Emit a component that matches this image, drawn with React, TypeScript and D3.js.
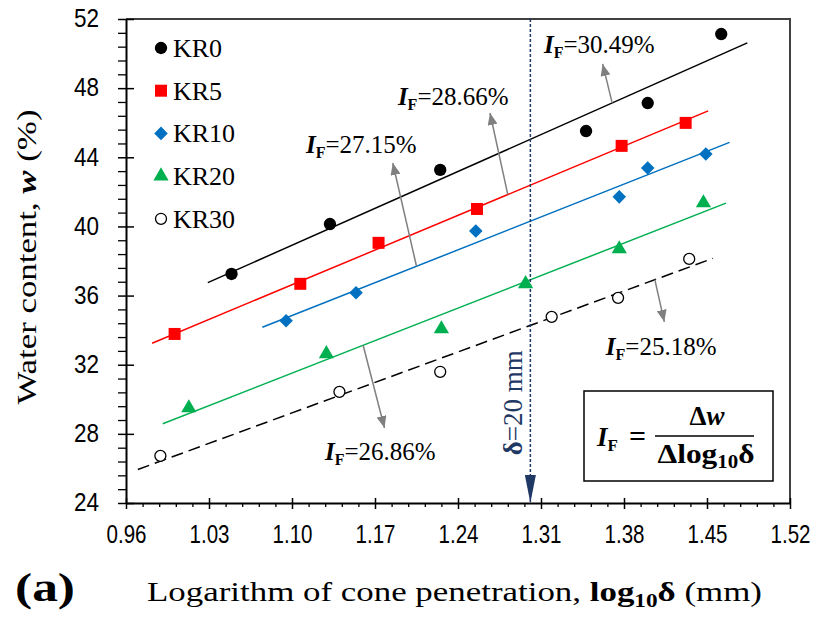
import { useEffect, useRef } from 'react';
import * as d3 from 'd3';

const width = 819;
const height = 630;
// plot box 126..790 x 19..503
const [mt, mr, mb, ml] = [19, 29, 127, 126];
const graphWidth = width - ml - mr;
const graphHeight = height - mt - mb;

const serif = "'Liberation Serif', 'Times New Roman', serif";
const narrow = "'Liberation Sans Narrow', 'Arial Narrow', 'Liberation Sans', Arial, sans-serif";
const navy = '#1f3864';
const gray = '#808080';

// tick labels
const xTicks = [0.96, 1.03, 1.1, 1.17, 1.24, 1.31, 1.38, 1.45, 1.52];
const yTicks = [24, 28, 32, 36, 40, 44, 48, 52];

// series
const seriesNames = ['KR0', 'KR5', 'KR10', 'KR20', 'KR30'];
const seriesColors = ['#000000', '#ff0000', '#0070c0', '#00b050', '#000000'];
const kr0X = [1.049, 1.132, 1.225, 1.348, 1.4, 1.462];
const kr0W = [37.25, 40.14, 43.27, 45.52, 47.14, 51.13];
const kr5X = [1.001, 1.107, 1.173, 1.256, 1.378, 1.432];
const kr5W = [33.78, 36.68, 39.05, 41.01, 44.66, 45.99];
const kr10X = [1.095, 1.154, 1.255, 1.376, 1.4, 1.449];
const kr10W = [34.54, 36.16, 39.74, 41.71, 43.38, 44.19];
const kr20X = [1.013, 1.129, 1.226, 1.297, 1.376, 1.447];
const kr20W = [29.5, 32.63, 34.07, 36.68, 38.7, 41.36];
const kr30X = [0.989, 1.14, 1.225, 1.319, 1.375, 1.435];
const kr30W = [26.73, 30.43, 31.59, 34.77, 35.87, 38.12];

// flow index (slope of fit) and extent of each fit line
const flowIndex = [30.49, 28.66, 27.15, 26.86, 25.18];
const fitStart = [1.029, 0.982, 1.075, 0.991, 0.97];
const fitEnd = [1.484, 1.451, 1.469, 1.466, 1.455];

// annotation arrows (data units)
const arrowFromX = [1.37, 1.282, 1.205, 1.16, 1.406];
const arrowToX = [1.362, 1.267, 1.185, 1.178, 1.414];
const arrowToY = [49.4, 46.56, 43.67, 28.34, 34.48];
const labelX = [1.3125, 1.1893, 1.1118, 1.1278, 1.3647];
const labelY = [50.5, 47.49, 44.71, 26.96, 33.03];

const deltaRef = 20; // mm

export default function App() {
    const chart = useRef<SVGSVGElement | null>(null);

    useEffect(() => {
        document.body.style.margin = '0';
        const svg = d3.select(chart.current);
        svg.selectAll('*').remove();

        const xs = [kr0X, kr5X, kr10X, kr20X, kr30X];
        const ws = [kr0W, kr5W, kr10W, kr20W, kr30W];

        const defs = svg.append('defs');
        defs.append('marker')
            .attr('id', 'grayHead')
            .attr('markerUnits', 'userSpaceOnUse')
            .attr('viewBox', '0 0 12 10')
            .attr('refX', 12)
            .attr('refY', 5)
            .attr('markerWidth', 12)
            .attr('markerHeight', 10)
            .attr('orient', 'auto')
            .append('path')
            .attr('d', 'M0,0 L12,5 L0,10 Z')
            .attr('fill', gray);
        defs.append('marker')
            .attr('id', 'navyHead')
            .attr('markerUnits', 'userSpaceOnUse')
            .attr('viewBox', '0 0 28 11')
            .attr('refX', 28)
            .attr('refY', 5.5)
            .attr('markerWidth', 28)
            .attr('markerHeight', 11)
            .attr('orient', 'auto')
            .append('path')
            .attr('d', 'M0,0 L28,5.5 L0,11 Z')
            .attr('fill', navy);

        const graph = svg.append('g').attr('transform', `translate(${ml}, ${mt})`);

        const x = d3.scaleLinear().domain([0.96, 1.52]).range([0, graphWidth]);
        const y = d3.scaleLinear().domain([24, 52]).range([graphHeight, 0]);

        // frame top / right
        graph.append('path')
            .attr('d', `M0,0 H${graphWidth} V${graphHeight}`)
            .attr('fill', 'none')
            .attr('stroke', '#404040')
            .attr('stroke-width', 2);

        // minor ticks
        const xMinor = d3.range(0, 41).map((i) => 0.96 + i * 0.014).filter((_d, i) => i % 5 !== 0);
        const yMinor = d3.range(0, 36).map((i) => 24 + i * 0.8).filter((_d, i) => i % 5 !== 0);

        graph.append('g')
            .attr('transform', `translate(0, ${graphHeight})`)
            .call(d3.axisBottom(x).tickValues(xMinor).tickSize(4).tickSizeOuter(0).tickFormat(() => ''))
            .call((g) => g.select('.domain').remove())
            .call((g) => g.selectAll('.tick line').attr('stroke-width', 1.3));
        graph.append('g')
            .call(d3.axisLeft(y).tickValues(yMinor).tickSize(8).tickSizeOuter(0).tickFormat(() => ''))
            .call((g) => g.select('.domain').remove())
            .call((g) => g.selectAll('.tick line').attr('stroke-width', 1.3));

        // major axes
        graph.append('g')
            .attr('transform', `translate(0, ${graphHeight})`)
            .call(d3.axisBottom(x).tickValues(xTicks).tickSize(6).tickSizeOuter(0).tickPadding(16).tickFormat(d3.format('.2f')))
            .call((g) => g.select('.domain').attr('stroke-width', 2))
            .call((g) => g.selectAll('.tick line').attr('y1', -5).attr('stroke-width', 1.5))
            .call((g) =>
                g.selectAll('.tick text')
                    .attr('font-family', narrow)
                    .attr('font-size', 26)
                    .attr('fill', '#000')
                    .attr('textLength', 40)
                    .attr('lengthAdjust', 'spacingAndGlyphs')
            );
        graph.append('g')
            .call(d3.axisLeft(y).tickValues(yTicks).tickSize(8).tickSizeOuter(0).tickPadding(19))
            .call((g) => g.select('.domain').attr('stroke-width', 2))
            .call((g) => g.selectAll('.tick line').attr('x1', 8).attr('stroke-width', 1.5))
            .call((g) =>
                g.selectAll('.tick text')
                    .attr('font-family', narrow)
                    .attr('font-size', 26)
                    .attr('fill', '#000')
                    .attr('dy', '0.3em')
                    .attr('textLength', 25)
                    .attr('lengthAdjust', 'spacingAndGlyphs')
            );

        // fit lines: slope = I_F, through the centroid of each series
        const fitY = (i: number, v: number) => d3.mean(ws[i])! + flowIndex[i] * (v - d3.mean(xs[i])!);
        seriesNames.forEach((_name, i) => {
            graph.append('line')
                .attr('x1', x(fitStart[i]))
                .attr('y1', y(fitY(i, fitStart[i])))
                .attr('x2', x(fitEnd[i]))
                .attr('y2', y(fitY(i, fitEnd[i])))
                .attr('stroke', seriesColors[i])
                .attr('stroke-width', 1.5)
                .attr('stroke-dasharray', i === 4 ? '12,6' : null);
        });

        // delta = 20 mm reference
        const xRef = Math.log10(deltaRef);
        graph.append('line')
            .attr('x1', x(xRef))
            .attr('x2', x(xRef))
            .attr('y1', 0)
            .attr('y2', graphHeight)
            .attr('stroke', navy)
            .attr('stroke-width', 1.5)
            .attr('stroke-dasharray', '3,2')
            .attr('marker-end', 'url(#navyHead)');
        graph.append('text')
            .attr('transform', `translate(${x(xRef) - 8}, ${y(29.8)}) rotate(-90)`)
            .attr('text-anchor', 'middle')
            .attr('font-family', serif)
            .attr('font-size', 27)
            .attr('fill', navy)
            .call((t) => {
                t.append('tspan').attr('font-weight', 'bold').text('δ');
                t.append('tspan').text('=20 mm');
            });

        // markers
        const symbols = [d3.symbolCircle, d3.symbolSquare, d3.symbolSquare, d3.symbolTriangle, d3.symbolCircle];
        const sizes = [120, 144, 92, 100, 95];
        seriesNames.forEach((_name, i) => {
            graph.append('g')
                .selectAll('path')
                .data(xs[i].map((v, j) => ({ x: v, w: ws[i][j] })))
                .join('path')
                .attr('d', d3.symbol().type(symbols[i]).size(sizes[i]))
                .attr('transform', (d) => `translate(${x(d.x)}, ${y(d.w)})${i === 2 ? ' rotate(45)' : ''}`)
                .attr('fill', i === 4 ? '#fff' : seriesColors[i])
                .attr('stroke', i === 4 ? '#000' : 'none')
                .attr('stroke-width', 1.3);
        });

        // I_F annotations
        flowIndex.forEach((v, i) => {
            graph.append('line')
                .attr('x1', x(arrowFromX[i]))
                .attr('y1', y(fitY(i, arrowFromX[i])))
                .attr('x2', x(arrowToX[i]))
                .attr('y2', y(arrowToY[i]))
                .attr('stroke', gray)
                .attr('stroke-width', 1.5)
                .attr('marker-end', 'url(#grayHead)');
            const t = graph.append('text')
                .attr('x', x(labelX[i]))
                .attr('y', y(labelY[i]) + 8)
                .attr('font-family', serif)
                .attr('font-size', 25)
                .attr('fill', '#000');
            t.append('tspan').attr('font-weight', 'bold').attr('font-style', 'italic').text('I');
            t.append('tspan').attr('font-weight', 'bold').attr('font-size', 16).attr('dy', 5).text('F');
            t.append('tspan').attr('dy', -5).text(`=${v.toFixed(2)}%`);
        });

        // legend
        const legend = svg.append('g').attr('transform', 'translate(161, 48)');
        seriesNames.forEach((name, i) => {
            const item = legend.append('g').attr('transform', `translate(0, ${i * 42.7})`);
            item.append('path')
                .attr('d', d3.symbol().type(symbols[i]).size(sizes[i])())
                .attr('transform', i === 2 ? 'rotate(45)' : null)
                .attr('fill', i === 4 ? '#fff' : seriesColors[i])
                .attr('stroke', i === 4 ? '#000' : 'none')
                .attr('stroke-width', 1.3);
            item.append('text')
                .attr('x', 12)
                .attr('y', 9)
                .attr('font-family', serif)
                .attr('font-size', 26)
                .text(name);
        });

        // formula box
        const box = svg.append('g');
        box.append('rect')
            .attr('x', 584)
            .attr('y', 391)
            .attr('width', 189)
            .attr('height', 90)
            .attr('fill', '#fff')
            .attr('stroke', '#000')
            .attr('stroke-width', 1.5);
        const lhs = box.append('text')
            .attr('x', 597)
            .attr('y', 446)
            .attr('font-family', serif)
            .attr('font-size', 27)
            .attr('font-weight', 'bold');
        lhs.append('tspan').attr('font-style', 'italic').text('I');
        lhs.append('tspan').attr('font-size', 17).attr('dy', 5).text('F');
        lhs.append('tspan').attr('dy', -5).attr('dx', 11).attr('font-size', 30).text('=');
        const num = box.append('text')
            .attr('x', 707)
            .attr('y', 425)
            .attr('text-anchor', 'middle')
            .attr('font-family', serif)
            .attr('font-size', 27)
            .attr('font-weight', 'bold');
        num.append('tspan').text('Δ');
        num.append('tspan').attr('font-style', 'italic').text('w');
        box.append('line')
            .attr('x1', 655)
            .attr('x2', 754)
            .attr('y1', 436)
            .attr('y2', 436)
            .attr('stroke', '#000')
            .attr('stroke-width', 1.3);
        const den = box.append('text')
            .attr('x', 706)
            .attr('y', 463)
            .attr('text-anchor', 'middle')
            .attr('font-family', serif)
            .attr('font-size', 27)
            .attr('font-weight', 'bold')
            .attr('textLength', 97)
            .attr('lengthAdjust', 'spacingAndGlyphs');
        den.append('tspan').text('Δlog');
        den.append('tspan').attr('font-size', 18).attr('dy', 5).text('10');
        den.append('tspan').attr('dy', -5).text('δ');

        // axis titles (stretched wide as in the source figure)
        const yTitle = svg.append('text')
            .attr('transform', 'translate(36, 257) rotate(-90)')
            .attr('text-anchor', 'middle')
            .attr('font-family', serif)
            .attr('font-size', 27)
            .attr('textLength', 295)
            .attr('lengthAdjust', 'spacingAndGlyphs');
        yTitle.append('tspan').text('Water content, ');
        yTitle.append('tspan').attr('font-weight', 'bold').attr('font-style', 'italic').text('w');
        yTitle.append('tspan').text(' (%)');

        const xTitle = svg.append('text')
            .attr('x', 147)
            .attr('y', 601)
            .attr('font-family', serif)
            .attr('font-size', 27)
            .attr('textLength', 615)
            .attr('lengthAdjust', 'spacingAndGlyphs');
        xTitle.append('tspan').text('Logarithm of cone penetration, ');
        xTitle.append('tspan').attr('font-weight', 'bold').text('log');
        xTitle.append('tspan').attr('font-weight', 'bold').attr('font-size', 18).attr('dy', 6).text('10');
        xTitle.append('tspan').attr('font-weight', 'bold').attr('dy', -6).text('δ');
        xTitle.append('tspan').text(' (mm)');

        svg.append('text')
            .attr('x', 15)
            .attr('y', 601)
            .attr('font-family', serif)
            .attr('font-size', 40)
            .attr('font-weight', 'bold')
            .attr('textLength', 60)
            .attr('lengthAdjust', 'spacingAndGlyphs')
            .text('(a)');
    }, []);

    return (
        <svg
            ref={chart}
            width={width}
            height={height}
            style={{ display: 'block', position: 'absolute', left: 0, top: 0, background: '#fff' }}
        />
    );
}
